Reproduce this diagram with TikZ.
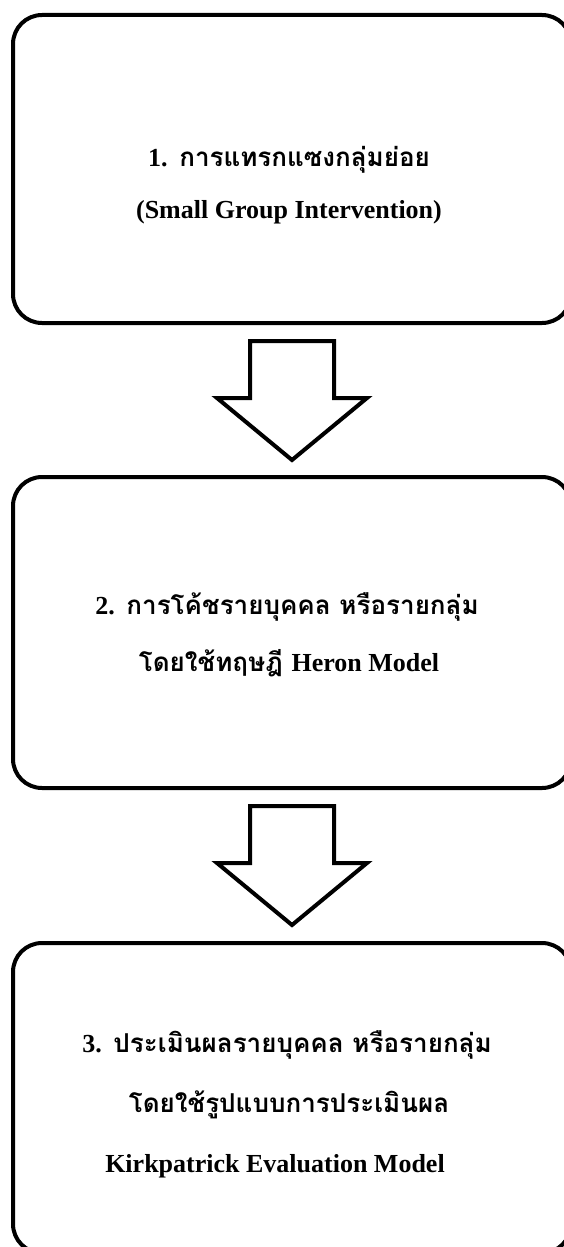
\documentclass[tikz,border=0pt]{standalone}
\usepackage{fontspec}
\setmainfont{Liberation Serif}
\newfontfamily\thai[Script=Thai]{Loma}
\newcommand\enf{\fontsize{26}{30}\selectfont\rmfamily\bfseries}
\begin{document}
\begin{tikzpicture}[x=1pt,y=-1pt,
  box/.style={draw, line width=4pt, rounded corners=29pt},
  arr/.style={draw, line width=4pt, fill=white, line join=miter},
  en/.style={font=\enf, inner sep=0pt},
  th/.style={font=\fontsize{26}{30}\thai\bfseries, inner sep=0pt}]
\useasboundingbox (0,0) rectangle (563,1247);
\node[box, minimum width=558pt, minimum height=308pt] (b1) at (292,169) {};
\node[box, minimum width=558pt, minimum height=311pt] (b2) at (292,632.5) {};
\node[box, minimum width=558pt, minimum height=310pt] (b3) at (292,1098) {};
% arrows
\foreach \t/\n in {341/a1,806/a2} {
  \draw[arr] (250,\t) -- (334,\t) -- (334,\t+57) -- (367,\t+57) -- (292,\t+119)
     -- (217,\t+57) -- (250,\t+57) -- cycle;
}
% texts
\node[th] (t11) at (289,160) {{\enf 1.} การแทรกแซงกลุ่มย่อย};
\node[en] (t12) at (289,212) {(Small Group Intervention)};
\node[th] (t21) at (287,607) {{\enf 2.} การโค้ชรายบุคคล หรือรายกลุ่ม};
\node[th] (t22) at (289,663) {โดยใช้ทฤษฎี {\enf Heron Model}};
\node[th] (t31) at (287,1045) {{\enf 3.} ประเมินผลรายบุคคล หรือรายกลุ่ม};
\node[th] (t32) at (289,1105) {โดยใช้รูปแบบการประเมินผล};
\node[en] (t33) at (275,1166) {Kirkpatrick Evaluation Model};
\end{tikzpicture}
\end{document}
